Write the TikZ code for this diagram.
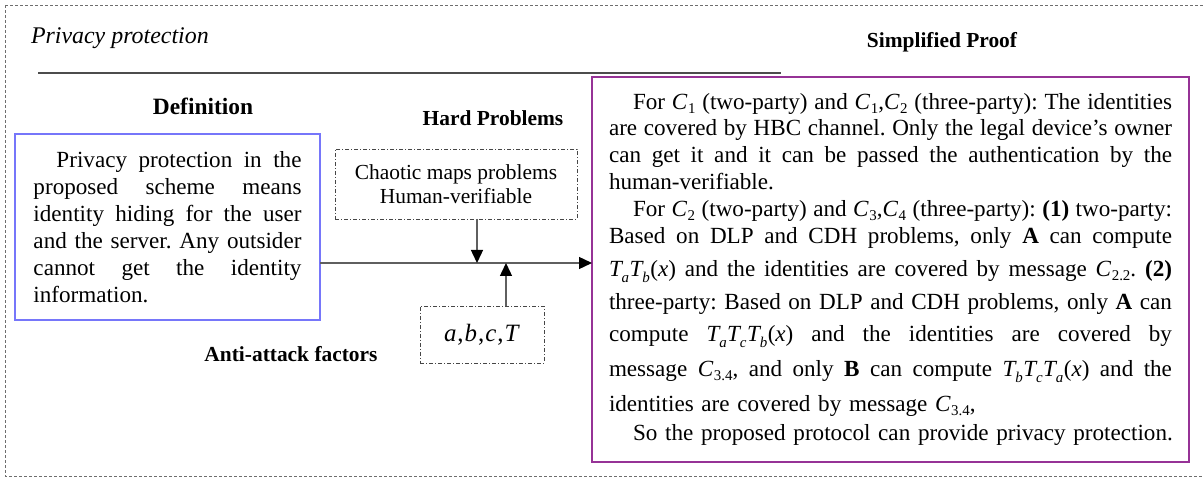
\documentclass[tikz,border=0pt]{standalone}
\usepackage{fontspec}
\setmainfont{Liberation Serif}
\usetikzlibrary{arrows.meta}
\definecolor{defblue}{RGB}{118,118,250}
\definecolor{proofpurple}{RGB}{150,50,150}
\definecolor{conngray}{RGB}{95,95,95}
\definecolor{framegray}{RGB}{110,110,110}
\definecolor{boxgray}{RGB}{70,70,70}
\newlength\jw
\newcommand\Tm[1]{\textit{T}\kern-1.5bp\raisebox{-6bp}{\fontsize{15}{15}\selectfont\textit{#1}}\kern0.5bp}
\newcommand\Cs[1]{\textit{C}\kern0.5bp\raisebox{-4bp}{\fontsize{15}{15}\selectfont #1}}
\newcommand\jl[1]{\leavevmode\hbox to \jw{\spaceskip=0.25em plus 1fil minus 0.1em\relax #1}}
\newcommand\lline[1]{\leavevmode\hbox to \jw{#1\hss}}
\newcommand\nolsl{\lineskiplimit=-100pt\relax\lineskip=0pt\relax\frenchspacing}
\begin{document}
\begin{tikzpicture}[x=1bp,y=-1bp,
  every node/.style={inner sep=0pt,outer sep=0pt},
  bodytext/.style={font=\fontsize{23.2}{27}\selectfont},
  titletext/.style={anchor=base,font=\fontsize{21.5}{24}\selectfont\bfseries},
  defbox/.style={bodytext,draw=defblue,line width=1.3bp,minimum width=305bp,minimum height=186bp,text width=268bp},
  proofbox/.style={bodytext,draw=proofpurple,line width=1.2bp,minimum width=597bp,minimum height=385bp,text width=563bp},
  probbox/.style={draw=boxgray,line width=0.9bp,dash pattern=on 4bp off 2bp on 1bp off 2bp},
  framedash/.style={draw=framegray,line width=0.8bp,dash pattern=on 3bp off 2bp},
  rulestyle/.style={draw=conngray!80!black,line width=1.3bp},
  conn/.style={draw=conngray,line width=1.4bp,-{Triangle[length=13bp,width=12bp,color=black]}}
]
\useasboundingbox (0,0) rectangle (1203,477);
\clip (0,0) rectangle (1203,477);
% outer frame
\draw[framedash] (5,5) rectangle (1208,476);
% title and rule
\node[anchor=base west,font=\fontsize{24}{28}\selectfont\itshape] (title) at (31,44) {Privacy protection};
\coordinate (rs) at (38,73);
\coordinate (re) at (781,73);
\draw[rulestyle] (rs) -- (re);
% labels
\node[titletext,font=\fontsize{23.5}{26}\selectfont\bfseries] (deflabel) at (203,115) {Definition};
\node[titletext] (hardlabel) at (493,126) {Hard Problems};
\node[titletext] (antilabel) at (291,362) {Anti-attack factors};
\node[titletext] (prooflabel) at (942,48) {Simplified Proof};
% definition box
\node[defbox] (def) at (167.5,227) {\nolsl\setlength\jw{268bp}\noindent
\jl{\hspace*{23bp}Privacy protection in the}\\
\jl{proposed scheme means}\\
\jl{identity hiding for the user}\\
\jl{and the server. Any outsider}\\
\jl{cannot get the identity}\\
\lline{information.}};
% hard problems box
\node[probbox,minimum width=242bp,minimum height=70bp,align=center,font=\fontsize{21.5}{23.5}\selectfont] (hard) at (456,184) {Chaotic maps problems\\Human-verifiable};
% anti-attack box
\node[probbox,minimum width=124bp,minimum height=57bp,font=\fontsize{25}{28}\selectfont] (abc) at (482,334.5) {\textit{a}\kern1bp,\kern1bp\textit{b}\kern1bp,\kern1bp\textit{c}\kern1bp,\kern1bp\textit{T}};
% proof box
\node[proofbox] (proof) at (890.5,269.5) {\nolsl\setlength\jw{563bp}\noindent
\jl{\hspace*{24bp}For \Cs{1} (two-party) and \Cs{1},\Cs{2} (three-party): The identities}\\
\jl{are covered by HBC channel. Only the legal device’s owner}\\
\jl{can get it and it can be passed the authentication by the}\\
\lline{human-verifiable.}\\
\jl{\hspace*{24bp}For \Cs{2} (two-party) and \Cs{3},\Cs{4} (three-party): \textbf{(1)} two-party:}\\
\jl{Based on DLP and CDH problems, only \textbf{A} can compute}\\[6bp]
\jl{\Tm{a}\Tm{b}(\textit{x}) and the identities are covered by message \Cs{2.2}. \textbf{(2)}}\\[6bp]
\jl{three-party: Based on DLP and CDH problems, only \textbf{A} can}\\[5bp]
\jl{compute \Tm{a}\Tm{c}\Tm{b}(\textit{x}) and the identities are covered by}\\[8bp]
\jl{message \Cs{3.4}, and only \textbf{B} can compute \Tm{b}\Tm{c}\Tm{a}(\textit{x}) and the}\\[8bp]
\lline{identities are covered by message \Cs{3.4},}\\[3bp]
\lline{\hspace*{24bp}So the proposed protocol can provide privacy protection.}};
% connectors
\coordinate (jm) at (0,263);
\coordinate (jd) at (477,263);
\coordinate (ju) at (506,263);
\draw[conn] (def.east |- jm) -- (proof.west |- jm);
\draw[conn] (hard.south -| jd) -- (jd);
\draw[conn] (abc.north -| ju) -- (ju);
\end{tikzpicture}
\end{document}
